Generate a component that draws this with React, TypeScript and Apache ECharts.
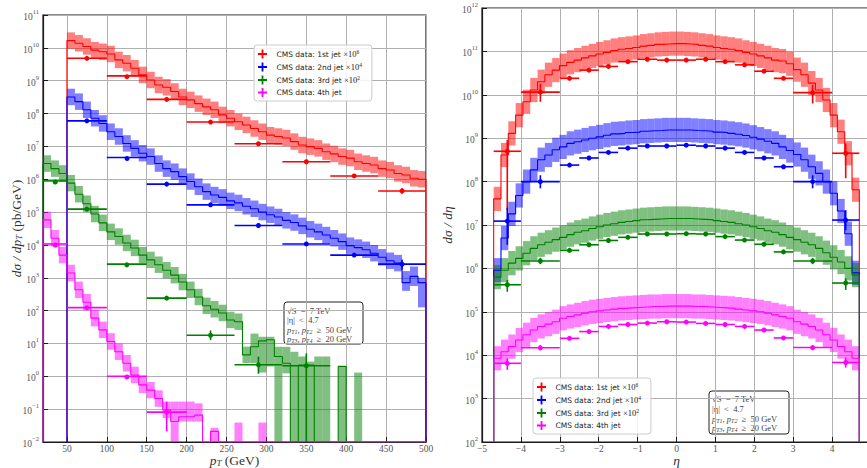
import React, { useEffect, useRef } from "react";
import * as echarts from "echarts";

const SERIF = "'Liberation Serif', 'DejaVu Serif', serif";
const SANS = "'DejaVu Sans', sans-serif";

// ---------------- legend / series names ----------------
const seriesNames = [
  "CMS data: 1st jet ×10^6",
  "CMS data: 2nd jet ×10^4",
  "CMS data: 3rd jet ×10^2",
  "CMS data: 4th jet",
];

// ---------------- left panel: dσ/dpT ----------------
const ptBinWidth = 10;
const ptStartLead = 50; // 1st and 2nd jet histograms
const ptStartSoft = 20; // 3rd and 4th jet histograms
const ptTicks = [50, 100, 150, 200, 250, 300, 350, 400, 450, 500];
const ptLogTicks = [1e-2, 1e-1, 1, 1e1, 1e2, 1e3, 1e4, 1e5, 1e6, 1e7, 1e8, 1e9, 1e10, 1e11];

const redPtHist = [
  1.66e10, 1.38e10, 1.1e10, 8.5e9, 7.6e9, 6.5e9, 4.3e9, 3.4e9, 2.4e9, 1.5e9,
  1.05e9, 7.4e8, 6.3e8, 4.7e8, 3.2e8, 2.6e8, 2.0e8, 1.6e8, 1.3e8, 9.1e7,
  7.2e7, 5.6e7, 4.5e7, 3.5e7, 2.8e7, 2.2e7, 2.0e7, 1.8e7, 1.4e7, 1.1e7,
  9.8e6, 8.7e6, 6.9e6, 5.9e6, 4.9e6, 4.4e6, 3.4e6, 3.0e6, 2.7e6, 2.1e6,
  1.9e6, 1.5e6, 1.35e6, 1.07e6, 1.0e6,
];
const bluePtHist = [
  3.2e8, 2.3e8, 1.3e8, 7.2e7, 5.0e7, 2.8e7, 2.0e7, 1.23e7, 8.7e6, 6.2e6,
  4.9e6, 3.0e6, 2.1e6, 1.7e6, 1.2e6, 8.5e5, 5.9e5, 4.2e5, 3.3e5, 2.8e5,
  2.2e5, 1.9e5, 1.5e5, 1.26e5, 1.0e5, 8.3e4, 7.1e4, 5.6e4, 4.8e4, 3.8e4,
  3.0e4, 2.5e4, 2.0e4, 1.6e4, 1.26e4, 9.5e3, 8.3e3, 7.1e3, 5.6e3, 4.2e3,
  3.3e3, 2.8e3, 7.1e2, 1.1e3, 7.1e2,
];
const greenPtHist = [
  3.0e6, 2.1e6, 1.5e6, 7.6e5, 3.5e5, 1.8e5, 8.7e4, 4.7e4, 2.5e4, 1.8e4,
  1.15e4, 8.1e3, 4.9e3, 3.5e3, 2.5e3, 1.7e3, 1.2e3, 7.4e2, 4.3e2, 2.6e2,
  1.4e2, 1.1e2, 85, 52, 46, 4.5, 7.9, 12, 13, 4.0,
  2.5, 0, 2.2, 2.2, 0, 0, 0, 2.0, 0, 0,
  0, 0, 0, 0, 0, 0, 0, 0,
];
const magentaPtHist = [
  5.8e4, 1.6e4, 4.9e3, 1.4e3, 4.3e2, 1.8e2, 59, 26, 11.5, 5.6,
  2.5, 1.1, 0.55, 0.38, 0.21, 0.095, 0.042, 0.059, 0.059, 0.066,
  0, 0.021, 0, 0, 0, 0, 0, 0, 0, 0,
  0, 0, 0, 0, 0, 0, 0, 0, 0, 0,
  0, 0, 0, 0, 0, 0, 0, 0,
];
// explicit uncertainty bands [bin start, low, high] where they differ from the usual width
const bluePtBandFix = [[470, 4.0e2, 1.6e3], [480, 5.6e2, 2.2e3], [490, 1.26e2, 1.0e3]];
const greenPtBandFix = [
  [280, 2.5, 20], [290, 1.3, 16], [300, 2.0, 16], [310, 0.01, 7.9], [320, 1.23, 7.9],
  [330, 0.01, 5.6], [340, 0.01, 4.0], [350, 0.01, 2.8], [360, 0.01, 4.0], [370, 0.01, 4.0],
  [390, 0.01, 2.0], [410, 0.01, 1.3],
];
const magentaPtBandFix = [
  [180, 0.01, 0.17], [190, 0.042, 0.17], [200, 0.042, 0.17], [210, 0.042, 0.15],
  [230, 0.01, 0.027], [260, 0.01, 0.039], [290, 0.01, 0.039],
];

// CMS data points (bin edges, values, optional vertical errors [low, high])
const ptEdgesLead = [50, 100, 150, 200, 260, 320, 380, 440, 500];
const ptEdges3rd = [20, 50, 100, 150, 200, 260, 320, 380];
const ptEdges4th = [20, 50, 100, 150, 200];
const redPtData = [4.8e9, 1.4e9, 2.7e8, 5.5e7, 1.2e7, 3.4e6, 1.26e6, 4.4e5];
const redPtErr = [null, null, null, null, null, null, null, [3.6e5, 5.4e5]];
const bluePtData = [6.0e7, 4.6e6, 7.1e5, 1.66e5, 3.9e4, 1.07e4, 4.9e3, 2.6e3];
const bluePtErr = [null, null, null, null, null, null, null, [1.8e3, 3.6e3]];
const greenPtData = [8.9e5, 1.23e5, 2.6e3, 2.4e2, 17.8, 2.24, 2.1];
const greenPtErr = [null, null, null, null, [12.6, 25], [1.2, 4.0], [0.01, 5.0]];
const magentaPtData = [1.07e4, 1.23e2, 1.0, 0.081];
const magentaPtErr = [null, null, null, [0.021, 0.17]];

// ---------------- right panel: dσ/dη ----------------
const etaHistMin = -4.7;
const etaHistMax = 4.7;
const etaBins = 50;
const etaLogTicks = [1e2, 1e3, 1e4, 1e5, 1e6, 1e7, 1e8, 1e9, 1e10, 1e11, 1e12];

const redEtaHist = [
  4.0e7, 4.1e8, 1.29e9, 3.4e9, 6.9e9, 1.29e10, 2.0e10, 2.9e10, 3.7e10, 4.7e10,
  5.6e10, 6.3e10, 7.1e10, 7.9e10, 8.7e10, 9.5e10, 1.05e11, 1.12e11, 1.17e11, 1.23e11,
  1.32e11, 1.38e11, 1.45e11, 1.48e11, 1.51e11, 1.51e11, 1.48e11, 1.45e11, 1.38e11, 1.32e11,
  1.23e11, 1.17e11, 1.12e11, 1.05e11, 9.5e10, 8.7e10, 7.9e10, 7.1e10, 6.3e10, 6.0e10,
  5.2e10, 3.8e10, 2.9e10, 1.86e10, 1.29e10, 7.6e9, 3.4e9, 1.41e9, 4.5e8, 6.5e7,
];
const blueEtaHist = [
  9.1e5, 5.0e6, 1.8e7, 4.8e7, 1.0e8, 1.86e8, 3.2e8, 4.1e8, 5.4e8, 6.3e8,
  7.6e8, 8.3e8, 9.1e8, 1.0e9, 1.07e9, 1.17e9, 1.26e9, 1.29e9, 1.35e9, 1.38e9,
  1.45e9, 1.48e9, 1.51e9, 1.55e9, 1.55e9, 1.55e9, 1.55e9, 1.51e9, 1.48e9, 1.45e9,
  1.38e9, 1.35e9, 1.29e9, 1.23e9, 1.15e9, 1.05e9, 9.5e8, 8.5e8, 7.6e8, 6.3e8,
  5.2e8, 4.2e8, 3.2e8, 2.2e8, 1.55e8, 1.0e8, 5.4e7, 2.1e7, 6.3e6, 7.9e5,
];
const greenEtaHist = [
  6.3e5, 9.1e5, 1.32e6, 1.7e6, 2.24e6, 2.9e6, 3.5e6, 4.0e6, 4.6e6, 5.2e6,
  6.0e6, 6.8e6, 7.4e6, 8.3e6, 9.1e6, 1.0e7, 1.07e7, 1.15e7, 1.2e7, 1.26e7,
  1.32e7, 1.35e7, 1.38e7, 1.41e7, 1.41e7, 1.41e7, 1.41e7, 1.38e7, 1.35e7, 1.32e7,
  1.26e7, 1.2e7, 1.15e7, 1.07e7, 1.0e7, 9.1e6, 8.3e6, 7.4e6, 6.8e6, 6.0e6,
  5.2e6, 4.6e6, 4.0e6, 3.5e6, 2.9e6, 2.3e6, 1.8e6, 1.4e6, 1.0e6, 7.0e5,
];
const magentaEtaHist = [
  8.5e3, 1.2e4, 1.58e4, 2.24e4, 2.95e4, 3.8e4, 4.6e4, 5.2e4, 5.9e4, 7.1e4,
  7.8e4, 8.5e4, 9.3e4, 1.0e5, 1.05e5, 1.1e5, 1.15e5, 1.2e5, 1.23e5, 1.26e5,
  1.29e5, 1.32e5, 1.32e5, 1.35e5, 1.35e5, 1.35e5, 1.35e5, 1.32e5, 1.32e5, 1.29e5,
  1.26e5, 1.23e5, 1.2e5, 1.15e5, 1.1e5, 1.05e5, 1.0e5, 9.3e4, 8.5e4, 7.8e4,
  7.1e4, 5.9e4, 5.2e4, 4.6e4, 3.8e4, 2.95e4, 2.24e4, 1.58e4, 1.2e4, 8.5e3,
];

const etaDataEdges = [-4.7, -4, -3, -2.5, -2, -1.5, -1, -0.5, 0, 0.5, 1, 1.5, 2, 2.5, 3, 4, 4.7];
const redEtaData = [5.0e8, 1.15e10, 2.4e10, 3.7e10, 4.5e10, 5.8e10, 6.6e10, 6.3e10, 6.3e10, 6.6e10, 5.8e10, 4.9e10, 3.5e10, 2.4e10, 1.12e10, 4.5e8];
const redEtaErr = [[2.2e7, 9.1e8], [6.9e9, 1.8e10], null, null, null, null, null, null, null, null, null, null, null, null, [6.3e9, 1.7e10], [1.2e8, 7.6e8]];
const blueEtaData = [1.23e7, 1.0e8, 2.4e8, 3.5e8, 4.7e8, 5.9e8, 6.6e8, 6.6e8, 6.9e8, 6.6e8, 5.9e8, 4.7e8, 3.5e8, 2.2e8, 1.0e8, 1.3e7];
const blueEtaErr = [[3.5e6, 2.5e7], [7.0e7, 1.4e8], null, null, null, null, null, null, null, null, null, null, null, null, [7.0e7, 1.4e8], [7.6e6, 2.2e7]];
const greenEtaData = [4.2e5, 1.48e6, 2.6e6, 3.5e6, 4.4e6, 5.2e6, 6.2e6, 6.2e6, 6.3e6, 6.2e6, 5.4e6, 4.5e6, 3.6e6, 2.4e6, 1.48e6, 4.6e5];
const greenEtaErr = [[2.9e5, 5.4e5], [1.25e6, 1.75e6], null, null, null, null, null, null, null, null, null, null, null, null, [1.25e6, 1.75e6], [3.2e5, 5.9e5]];
const magentaEtaData = [6.5e3, 1.48e4, 2.45e4, 3.5e4, 4.6e4, 5.1e4, 5.5e4, 5.9e4, 5.8e4, 5.4e4, 5.1e4, 4.6e4, 3.8e4, 2.5e4, 1.5e4, 6.8e3];
const magentaEtaErr = [[4.6e3, 8.5e3], [1.3e4, 1.7e4], null, null, null, null, null, null, null, null, null, null, null, null, [1.3e4, 1.7e4], [5.2e3, 8.9e3]];

const annotationLines = [
  "{n|√S  =  7 TeV}",
  "{n||η|  <  4.7}",
  "{i|p}{sub|T1}{n|, }{i|p}{sub|T2}{n|  ≥  50 GeV}",
  "{i|p}{sub|T3}{n|, }{i|p}{sub|T4}{n|  ≥  20 GeV}",
];

// ---------------- styling ----------------
const lineColors = ["#ff0000", "#0000ff", "#008000", "#ff00ff"];
const bandFills = ["rgba(255,0,0,0.5)", "rgba(0,0,255,0.5)", "rgba(0,128,0,0.5)", "rgba(255,0,255,0.5)"];
const LEFT_BAND_FACTOR = 1.78;
const RIGHT_BAND_FACTOR = 1.9;

function bandItem(fill: string, yMin: number, yMax: number) {
  return (params: any, api: any) => {
    const lo = Math.max(api.value(2), yMin);
    const hi = Math.min(api.value(3), yMax);
    const a = api.coord([api.value(0), hi]);
    const b = api.coord([api.value(1), lo]);
    return {
      type: "rect",
      shape: { x: a[0], y: a[1], width: b[0] - a[0], height: b[1] - a[1] },
      style: { fill },
      silent: true,
    };
  };
}

function pointItem(color: string, yMin: number) {
  return (params: any, api: any) => {
    const x = api.value(0);
    const y = api.value(1);
    const c = api.coord([x, y]);
    const l = api.coord([api.value(2), y]);
    const r = api.coord([api.value(3), y]);
    const children: any[] = [
      { type: "line", shape: { x1: l[0], y1: c[1], x2: r[0], y2: c[1] }, style: { stroke: color, lineWidth: 1.6 } },
    ];
    const el = api.value(4);
    const eh = api.value(5);
    if (el > 0 && eh > 0) {
      const t = api.coord([x, eh]);
      const b = api.coord([x, Math.max(el, yMin)]);
      children.push({ type: "line", shape: { x1: c[0], y1: t[1], x2: c[0], y2: b[1] }, style: { stroke: color, lineWidth: 1.6 } });
    }
    children.push({ type: "circle", shape: { cx: c[0], cy: c[1], r: 2.5 }, style: { fill: color } });
    return { type: "group", children };
  };
}

function histSeries(idx: number, axis: number, start: number, width: number, vals: number[], factor: number, fixes: number[][], yMin: number, yMax: number) {
  const line: number[][] = [[start, yMin]];
  vals.forEach((v, i) => line.push([start + i * width, v > 0 ? v : yMin]));
  const end = start + vals.length * width;
  const last = vals[vals.length - 1];
  line.push([end, last > 0 ? last : yMin]);
  line.push([end, yMin]);
  const band: number[][] = [];
  vals.forEach((v, i) => {
    const x0 = start + i * width;
    const fix = fixes.find((f) => Math.abs(f[0] - x0) < 1e-6);
    if (fix) band.push([x0, x0 + width, fix[1], fix[2]]);
    else if (v > 0) band.push([x0, x0 + width, v / factor, v * factor]);
  });
  return [
    {
      type: "custom",
      name: "band" + axis + "_" + idx,
      xAxisIndex: axis,
      yAxisIndex: axis,
      renderItem: bandItem(bandFills[idx], yMin, yMax),
      encode: { x: [0, 1], y: [2, 3] },
      data: band,
      silent: true,
      clip: true,
      z: 2,
    },
    {
      type: "line",
      name: "model" + axis + "_" + idx,
      xAxisIndex: axis,
      yAxisIndex: axis,
      data: line,
      step: "end",
      symbol: "none",
      showSymbol: false,
      silent: true,
      clip: true,
      lineStyle: { color: lineColors[idx], width: 1.1 },
      itemStyle: { color: lineColors[idx] },
      z: 2,
    },
  ];
}

function pointSeries(idx: number, axis: number, edges: number[], vals: number[], errs: any[], yMin: number) {
  const data = vals.map((v, i) => {
    const e = errs[i];
    return [(edges[i] + edges[i + 1]) / 2, v, edges[i], edges[i + 1], e ? e[0] : 0, e ? e[1] : 0];
  });
  return {
    type: "custom",
    name: seriesNames[idx],
    xAxisIndex: axis,
    yAxisIndex: axis,
    renderItem: pointItem(lineColors[idx], yMin),
    encode: { x: 0, y: 1 },
    data,
    itemStyle: { color: lineColors[idx] },
    clip: true,
    z: 3,
  };
}

const expLabel = (v: number) => {
  const e = Math.round(Math.log10(v));
  return "{b|10}{s|" + (e < 0 ? "−" + -e : String(e)) + "}";
};
const expRich = {
  b: { fontFamily: SERIF, fontSize: 9.5, color: "#555", lineHeight: 14, verticalAlign: "bottom" },
  s: { fontFamily: SERIF, fontSize: 6.5, color: "#555", lineHeight: 14, verticalAlign: "top" },
};
const nameRich = {
  i: { fontFamily: SERIF, fontStyle: "italic", fontSize: 13.5, color: "#333", lineHeight: 12, verticalAlign: "bottom" },
  n: { fontFamily: SERIF, fontSize: 13.5, color: "#333", lineHeight: 12, verticalAlign: "bottom" },
  sub: { fontFamily: SERIF, fontStyle: "italic", fontSize: 9, color: "#333", lineHeight: 12, verticalAlign: "bottom" },
};

const axisLineStyle = { show: true, onZero: false, lineStyle: { color: "#1a1a1a", width: 1.2 } };
const tickStyle = { show: true, inside: true, length: 5, lineStyle: { color: "#1a1a1a", width: 1 } };
const splitStyle = { show: true, lineStyle: { color: "#b0b0b0", width: 1 } };

const legendFormatter = (name: string) => {
  const m = name.match(/^(.*)×10\^(\d+)$/);
  if (m) return "{t|" + m[1] + "}{x|×10}{s|" + m[2] + "}";
  return "{t|" + name + "}";
};
const legendRich = {
  t: { fontFamily: SANS, fontSize: 7.5, color: "#222", lineHeight: 10 },
  x: { fontFamily: SERIF, fontSize: 8.5, color: "#222", lineHeight: 10 },
  s: { fontFamily: SERIF, fontSize: 5.5, color: "#222", lineHeight: 10, verticalAlign: "top" },
};
const PLUS_ICON = "path://M4,0L6,0L6,4L10,4L10,6L6,6L6,10L4,10L4,6L0,6L0,4L4,4Z";

function legendAt(left: number, top: number) {
  return {
    show: true,
    orient: "vertical",
    left,
    top,
    data: seriesNames,
    icon: PLUS_ICON,
    itemWidth: 18,
    itemHeight: 9,
    itemGap: 3.5,
    selectedMode: false,
    backgroundColor: "rgba(255,255,255,0.85)",
    borderColor: "#cccccc",
    borderWidth: 1,
    borderRadius: 3,
    padding: [4, 10, 4, 4],
    formatter: legendFormatter,
    textStyle: { rich: legendRich, fontFamily: SANS, fontSize: 7.5, color: "#222" },
  };
}

const boxRich = {
  n: { fontFamily: SERIF, fontSize: 8.5, color: "#444" },
  i: { fontFamily: SERIF, fontStyle: "italic", fontSize: 8.5, color: "#444" },
  sub: { fontFamily: SERIF, fontStyle: "italic", fontSize: 6, color: "#444", verticalAlign: "bottom", lineHeight: 11 },
};

function textBox(x: number, y: number, w: number, h: number, lineOffsets: number[]) {
  return {
    type: "group",
    x,
    y,
    z: 20,
    children: [
      { type: "rect", shape: { x: 0, y: 0, width: w, height: h, r: 3 }, style: { fill: "#fff", stroke: "#222", lineWidth: 1 } },
      ...annotationLines.map((t, i) => ({
        type: "text",
        x: 3,
        y: lineOffsets[i],
        style: { text: t, rich: boxRich, fontFamily: SERIF, fontSize: 8.5, fill: "#444", verticalAlign: "middle", align: "left" },
      })),
    ],
  };
}

function buildOption() {
  const series: any[] = [];
  const leftHists = [
    [ptStartLead, redPtHist, []],
    [ptStartLead, bluePtHist, bluePtBandFix],
    [ptStartSoft, greenPtHist, greenPtBandFix],
    [ptStartSoft, magentaPtHist, magentaPtBandFix],
  ] as any[];
  const leftPts = [
    [ptEdgesLead, redPtData, redPtErr],
    [ptEdgesLead, bluePtData, bluePtErr],
    [ptEdges3rd, greenPtData, greenPtErr],
    [ptEdges4th, magentaPtData, magentaPtErr],
  ] as any[];
  const rightHists = [redEtaHist, blueEtaHist, greenEtaHist, magentaEtaHist];
  const rightPts = [
    [redEtaData, redEtaErr],
    [blueEtaData, blueEtaErr],
    [greenEtaData, greenEtaErr],
    [magentaEtaData, magentaEtaErr],
  ] as any[];
  const etaWidth = (etaHistMax - etaHistMin) / etaBins;

  for (let i = 0; i < 4; i++) {
    series.push(...histSeries(i, 0, leftHists[i][0], ptBinWidth, leftHists[i][1], LEFT_BAND_FACTOR, leftHists[i][2], 1e-2, 1e11));
    series.push(pointSeries(i, 0, leftPts[i][0], leftPts[i][1], leftPts[i][2], 1e-2));
  }
  for (let i = 0; i < 4; i++) {
    series.push(...histSeries(i, 1, etaHistMin, etaWidth, rightHists[i], RIGHT_BAND_FACTOR, [], 1e2, 1e12));
    series.push(pointSeries(i, 1, etaDataEdges, rightPts[i][0], rightPts[i][1], 1e2));
  }

  const nameStyle = { rich: nameRich, fontFamily: SERIF, fontSize: 13.5, color: "#333" };
  const xLabelStyle = { color: "#555", fontFamily: SERIF, fontSize: 9.5, lineHeight: 10, margin: 2 };

  return {
    animation: false,
    backgroundColor: "#ffffff",
    grid: [
      { left: 43, top: 15, width: 383, height: 427, show: true, borderColor: "#1a1a1a", borderWidth: 1.2, backgroundColor: "transparent", containLabel: false, outerBoundsMode: "none" },
      { left: 482, top: 8, width: 389, height: 434, show: true, borderColor: "#1a1a1a", borderWidth: 1.2, backgroundColor: "transparent", containLabel: false, outerBoundsMode: "none" },
    ],
    xAxis: [
      {
        gridIndex: 0,
        type: "value",
        min: 20,
        max: 500,
        axisLine: axisLineStyle,
        axisTick: { ...tickStyle, customValues: ptTicks },
        axisLabel: { ...xLabelStyle, customValues: ptTicks },
        splitLine: splitStyle,
        name: "{i|p}{sub|T}{n| (GeV)}",
        nameLocation: "middle",
        nameGap: 13,
        nameMoveOverlap: false,
        nameTextStyle: nameStyle,
      },
      {
        gridIndex: 1,
        type: "value",
        min: -5,
        max: 5,
        interval: 1,
        axisLine: axisLineStyle,
        axisTick: tickStyle,
        axisLabel: {
          ...xLabelStyle,
          showMaxLabel: false,
          formatter: (v: number) => (v < 0 ? "−" + -v : String(v)),
        },
        splitLine: splitStyle,
        name: "{i|η}",
        nameLocation: "middle",
        nameGap: 13,
        nameMoveOverlap: false,
        nameTextStyle: nameStyle,
      },
    ],
    yAxis: [
      {
        gridIndex: 0,
        type: "log",
        logBase: 10,
        min: 1e-2,
        max: 1e11,
        axisLine: axisLineStyle,
        axisTick: { ...tickStyle, customValues: ptLogTicks },
        axisLabel: { customValues: ptLogTicks, formatter: expLabel, rich: expRich, margin: 4 },
        splitLine: splitStyle,
        minorTick: { show: false },
        name: "{i|dσ / dp}{sub|T}{n| (pb/GeV)}",
        nameLocation: "middle",
        nameRotate: 90,
        nameGap: 20,
        nameMoveOverlap: false,
        nameTextStyle: nameStyle,
      },
      {
        gridIndex: 1,
        type: "log",
        logBase: 10,
        min: 1e2,
        max: 1e12,
        axisLine: axisLineStyle,
        axisTick: { ...tickStyle, customValues: etaLogTicks },
        axisLabel: { customValues: etaLogTicks, formatter: expLabel, rich: expRich, margin: 4 },
        splitLine: splitStyle,
        minorTick: { show: false },
        name: "{i|dσ / dη}",
        nameLocation: "middle",
        nameRotate: 90,
        nameGap: 28,
        nameMoveOverlap: false,
        nameTextStyle: nameStyle,
      },
    ],
    legend: [legendAt(254, 45), legendAt(533, 378)],
    graphic: [
      textBox(284, 302, 79, 42, [8.5, 18, 27.5, 36.5]),
      textBox(709, 391, 80, 43, [7.5, 17.5, 27.5, 36.5]),
    ],
    series,
  };
}

export default function App() {
  const ref = useRef<HTMLDivElement>(null);
  useEffect(() => {
    if (!ref.current) return;
    const chart = echarts.init(ref.current, null, { renderer: "svg" });
    chart.setOption(buildOption() as any);
    return () => chart.dispose();
  }, []);
  return (
    <div
      ref={ref}
      style={{ position: "fixed", left: 0, top: 0, width: 867, height: 468, background: "#fff" }}
    />
  );
}
